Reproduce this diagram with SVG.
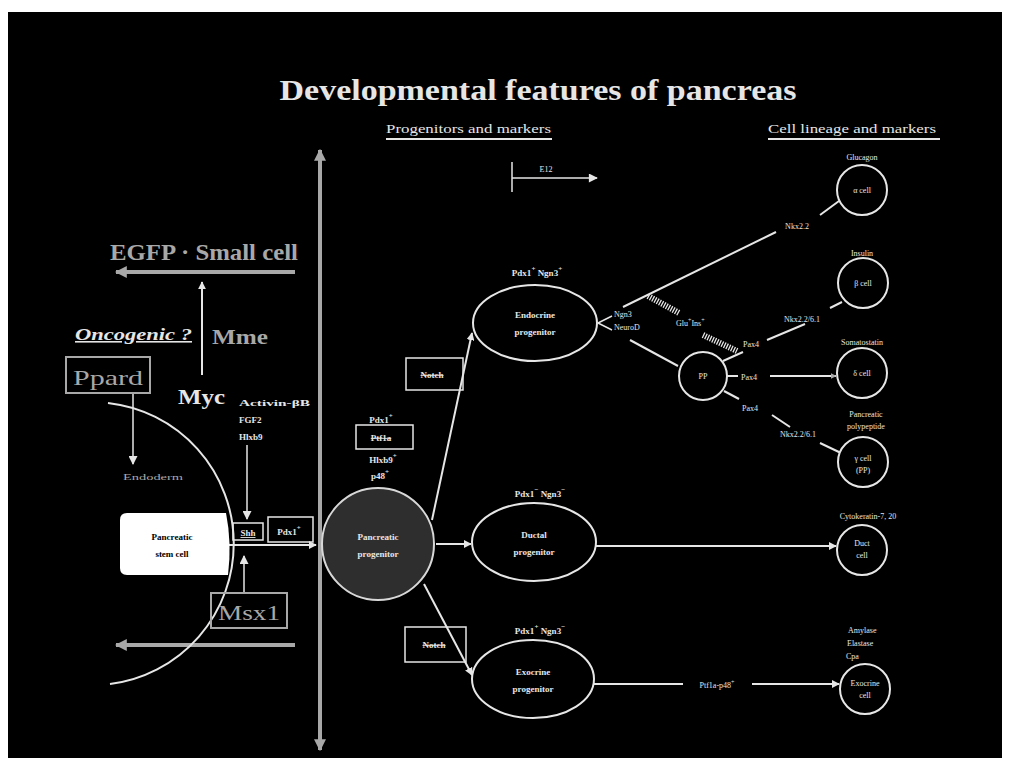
<svg xmlns="http://www.w3.org/2000/svg" width="1010" height="762" viewBox="0 0 1010 762">
<defs>
<marker id="ah" viewBox="0 0 10 10" refX="9" refY="5" markerWidth="4" markerHeight="4" orient="auto-start-reverse" markerUnits="strokeWidth"><path d="M0,0 L10,5 L0,10 z" fill="#e6e6e6"/></marker>
<marker id="ahs" viewBox="0 0 10 10" refX="9" refY="5" markerWidth="7" markerHeight="6" orient="auto-start-reverse" markerUnits="strokeWidth"><path d="M0,0 L10,5 L0,10 z" fill="#e6e6e6"/></marker>
<marker id="ahg" viewBox="0 0 10 10" refX="9" refY="5" markerWidth="3" markerHeight="3" orient="auto-start-reverse" markerUnits="strokeWidth"><path d="M0,0 L10,5 L0,10 z" fill="#a8a8a8"/></marker>
<style>
text{font-family:"Liberation Serif","Times New Roman",serif;fill:#e6e6e6}
.b{font-weight:bold}
.g{fill:#a8a8a8}
.s{font-size:9px;font-weight:bold}
.t{font-size:8px}
.m{text-anchor:middle}
.ln{stroke:#e6e6e6;stroke-width:2;fill:none}
.lt{stroke:#e6e6e6;stroke-width:1.5;fill:none}
.gl{stroke:#a8a8a8;stroke-width:4;fill:none}
.cell{fill:#000;stroke:#e6e6e6;stroke-width:2}
.box{fill:none;stroke:#e6e6e6;stroke-width:1.5}
.gbox{fill:none;stroke:#a8a8a8;stroke-width:2}
</style>
</defs>
<rect x="0" y="0" width="1010" height="762" fill="#fff"/>
<rect x="8" y="12" width="994" height="746" fill="#000"/>

<g id="headers">
<text x="538" y="100" class="b m" font-size="30" textLength="517" lengthAdjust="spacingAndGlyphs">Developmental features of pancreas</text>
<text x="386" y="133" font-size="13" textLength="165" lengthAdjust="spacingAndGlyphs">Progenitors and markers</text>
<line x1="386" y1="139" x2="552" y2="139" class="ln"/>
<text x="768" y="133" font-size="13" textLength="168" lengthAdjust="spacingAndGlyphs">Cell lineage and markers</text>
<line x1="768" y1="139" x2="940" y2="139" class="ln"/>
</g>

<g id="connectors">
<line x1="320" y1="150" x2="320" y2="750" class="gl" marker-start="url(#ahg)" marker-end="url(#ahg)"/>
<line x1="512" y1="162" x2="512" y2="192" class="lt"/>
<line x1="512" y1="178" x2="597" y2="178" class="lt" marker-end="url(#ahs)"/>
<line x1="295" y1="272" x2="116" y2="272" class="gl" marker-end="url(#ahg)"/>
<line x1="295" y1="645" x2="116" y2="645" class="gl" marker-end="url(#ahg)"/>
<line x1="202" y1="375" x2="202" y2="282" class="ln" marker-end="url(#ah)"/>
<line x1="133" y1="393" x2="133" y2="464" class="lt" marker-end="url(#ahs)"/>
<path d="M108,403 A141.5,141.5 0 0 1 110,684" class="ln"/>
<line x1="247" y1="445" x2="247" y2="519" class="lt" marker-end="url(#ahs)"/>
<line x1="244" y1="592" x2="244" y2="556" class="lt" marker-end="url(#ahs)"/>
<line x1="228" y1="545" x2="316" y2="545" class="ln" marker-end="url(#ah)"/>
<line x1="432" y1="520" x2="472" y2="333" class="ln" marker-end="url(#ah)"/>
<line x1="436" y1="544" x2="471" y2="544" class="ln" marker-end="url(#ah)"/>
<line x1="424" y1="584" x2="472" y2="675" class="ln" marker-end="url(#ah)"/>
<line x1="596" y1="546" x2="836" y2="546" class="ln" marker-end="url(#ah)"/>
<line x1="594" y1="684" x2="683" y2="684" class="ln"/>
<line x1="752" y1="684" x2="839" y2="684" class="ln" marker-end="url(#ah)"/>
<line x1="612" y1="316" x2="598" y2="323" class="lt"/>
<line x1="612" y1="330" x2="598" y2="323" class="lt"/>
<line x1="623" y1="307" x2="776" y2="232" class="ln"/>
<line x1="820" y1="215" x2="839" y2="201" class="ln"/>
<line x1="630" y1="340" x2="678" y2="366" class="ln"/>
<line x1="723" y1="361" x2="743" y2="352" class="ln"/>
<line x1="767" y1="340" x2="805" y2="324" class="ln"/>
<line x1="830" y1="308" x2="842" y2="302" class="ln"/>
<line x1="727" y1="376" x2="738" y2="376" class="ln"/>
<line x1="770" y1="376" x2="836" y2="376" class="ln" stroke-width="3.5" marker-end="url(#ahg)"/>
<line x1="724" y1="391" x2="739" y2="399" class="ln"/>
<line x1="772" y1="415" x2="790" y2="427" class="ln"/>
<line x1="820" y1="443" x2="841" y2="453" class="ln"/>
<g id="hatch">
<line x1="648" y1="296" x2="679" y2="313" stroke="#e6e6e6" stroke-width="6" stroke-dasharray="1.3 1.3"/>
<line x1="703" y1="335" x2="737" y2="351" stroke="#e6e6e6" stroke-width="6" stroke-dasharray="1.3 1.3"/>
</g>
</g>

<g id="left-labels">
<text x="110" y="260" class="b g" font-size="23" textLength="188" lengthAdjust="spacingAndGlyphs">EGFP · Small cell</text>
<text x="75" y="340" class="b" font-size="16" font-style="italic" text-decoration="underline" textLength="117" lengthAdjust="spacingAndGlyphs">Oncogenic ?</text>
<text x="212" y="344" class="b g" font-size="22" textLength="56" lengthAdjust="spacingAndGlyphs">Mme</text>
<text x="178" y="404" class="b" font-size="20" textLength="47" lengthAdjust="spacingAndGlyphs">Myc</text>
<text x="239" y="406" class="s" font-size="10" textLength="71" lengthAdjust="spacingAndGlyphs">Activin-βB</text>
<text x="239" y="423" class="s" font-size="10">FGF2</text>
<text x="239" y="440" class="s" font-size="10">Hlxb9</text>
<text x="123" y="480" class="t g" textLength="60" lengthAdjust="spacingAndGlyphs">Endoderm</text>
</g>

<g id="ppard">
<rect x="66" y="357" width="84" height="36" class="gbox"/>
<text x="108" y="385" class="g m" font-size="22" textLength="70" lengthAdjust="spacingAndGlyphs">Ppard</text>
</g>

<g id="msx1">
<rect x="211" y="593" width="76" height="35" class="gbox"/>
<text x="249" y="620" class="g m" font-size="22" textLength="62" lengthAdjust="spacingAndGlyphs">Msx1</text>
</g>

<g id="stem-cell">
<path d="M120,520 Q120,513 127,513 L226,513 Q232,543 228,575 L127,575 Q120,575 120,568 Z" fill="#fff"/>
<text x="172" y="540" class="s m" style="fill:#000" font-size="10">Pancreatic</text>
<text x="172" y="557" class="s m" style="fill:#000" font-size="10">stem cell</text>
</g>

<g id="shh">
<rect x="233" y="523" width="30" height="17" class="box"/>
<text x="248" y="536" class="s m" text-decoration="underline">Shh</text>
</g>

<g id="pdx1-box">
<rect x="268" y="517" width="45" height="25" class="box"/>
<text x="289" y="535" class="s m">Pdx1<tspan font-size="7" dy="-5">+</tspan></text>
</g>

<g id="pancreatic-progenitor">
<circle cx="378" cy="544" r="56" fill="#2e2e2e" stroke="#d8d8d8" stroke-width="2"/>
<text x="378" y="540" class="s m" font-size="10">Pancreatic</text>
<text x="378" y="557" class="s m" font-size="10">progenitor</text>
<rect x="356" y="425" width="57" height="24" class="box"/>
<text x="381" y="423" class="s m">Pdx1<tspan font-size="7" dy="-5">+</tspan></text>
<text x="381" y="441" class="s m" text-decoration="line-through">Ptf1a</text>
<text x="383" y="463" class="s m">Hlxb9<tspan font-size="7" dy="-5">+</tspan></text>
<text x="380" y="479" class="s m">p48<tspan font-size="7" dy="-5">+</tspan></text>
</g>

<g id="notch-endo">
<rect x="406" y="358" width="57" height="32" class="box"/>
<text x="432" y="378" class="s m" text-decoration="line-through">Notch</text>
</g>

<g id="notch-exo">
<rect x="405" y="627" width="61" height="35" class="box"/>
<text x="434" y="648" class="s m" text-decoration="line-through">Notch</text>
</g>

<g id="e12"><text x="546" y="172" class="t m">E12</text></g>

<g id="endocrine">
<ellipse cx="535" cy="323" rx="62" ry="38" class="cell"/>
<text x="535" y="318" class="s m" font-size="10">Endocrine</text>
<text x="535" y="335" class="s m" font-size="10">progenitor</text>
<text x="537" y="276" class="s m">Pdx1<tspan font-size="7" dy="-5">+</tspan><tspan dy="5"> Ngn3</tspan><tspan font-size="7" dy="-5">+</tspan></text>
<text x="614" y="317" class="t">Ngn3</text>
<text x="614" y="330" class="t">NeuroD</text>
<text x="676" y="326" class="t">Glu<tspan font-size="6" dy="-4">+</tspan><tspan dy="4">Ins</tspan><tspan font-size="6" dy="-4">+</tspan></text>
</g>

<g id="ductal">
<ellipse cx="534" cy="542" rx="62" ry="39" class="cell"/>
<text x="534" y="538" class="s m" font-size="10">Ductal</text>
<text x="534" y="555" class="s m" font-size="10">progenitor</text>
<text x="540" y="497" class="s m">Pdx1<tspan font-size="7" dy="-5">−</tspan><tspan dy="5"> Ngn3</tspan><tspan font-size="7" dy="-5">−</tspan></text>
</g>

<g id="exocrine">
<ellipse cx="533" cy="679" rx="61" ry="39" class="cell"/>
<text x="533" y="675" class="s m" font-size="10">Exocrine</text>
<text x="533" y="692" class="s m" font-size="10">progenitor</text>
<text x="540" y="634" class="s m">Pdx1<tspan font-size="7" dy="-5">+</tspan><tspan dy="5"> Ngn3</tspan><tspan font-size="7" dy="-5">−</tspan></text>
<text x="717" y="688" class="t m">Ptf1a-p48<tspan font-size="6" dy="-4">+</tspan></text>
</g>

<g id="pp-progenitor">
<circle cx="703" cy="376" r="24" class="cell"/>
<text x="703" y="379" class="t m">PP</text>
<text x="743" y="347" class="t">Pax4</text>
<text x="741" y="380" class="t">Pax4</text>
<text x="742" y="411" class="t">Pax4</text>
<text x="797" y="229" class="t m">Nkx2.2</text>
<text x="802" y="322" class="t m">Nkx2.2/6.1</text>
<text x="798" y="437" class="t m">Nkx2.2/6.1</text>
</g>

<g id="alpha-cell">
<circle cx="862" cy="190" r="25" class="cell"/>
<text x="862" y="193" class="t m">α cell</text>
<text x="862" y="160" class="t m" font-size="7">Glucagon</text>
</g>

<g id="beta-cell">
<circle cx="863" cy="283" r="25" class="cell"/>
<text x="863" y="286" class="t m">β cell</text>
<text x="862" y="256" class="t m" font-size="7">Insulin</text>
</g>

<g id="delta-cell">
<circle cx="862" cy="373" r="25" class="cell"/>
<text x="862" y="376" class="t m">δ cell</text>
<text x="862" y="345" class="t m" font-size="7">Somatostatin</text>
</g>

<g id="pp-cell">
<circle cx="863" cy="462" r="25" class="cell"/>
<text x="863" y="461" class="t m">γ cell</text>
<text x="863" y="473" class="t m" font-size="7">(PP)</text>
<text x="866" y="417" class="t m" font-size="7">Pancreatic</text>
<text x="866" y="429" class="t m" font-size="7">polypeptide</text>
</g>

<g id="duct-cell">
<circle cx="862" cy="550" r="25" class="cell"/>
<text x="862" y="546" class="t m">Duct</text>
<text x="862" y="558" class="t m">cell</text>
<text x="868" y="519" class="t m" font-size="7">Cytokeratin-7, 20</text>
</g>

<g id="exocrine-cell">
<circle cx="865" cy="689" r="25" class="cell"/>
<text x="865" y="686" class="t m">Exocrine</text>
<text x="865" y="698" class="t m">cell</text>
<text x="848" y="633" class="t" font-size="7">Amylase</text>
<text x="847" y="646" class="t" font-size="7">Elastase</text>
<text x="846" y="659" class="t" font-size="7">Cpa</text>
</g>
</svg>
